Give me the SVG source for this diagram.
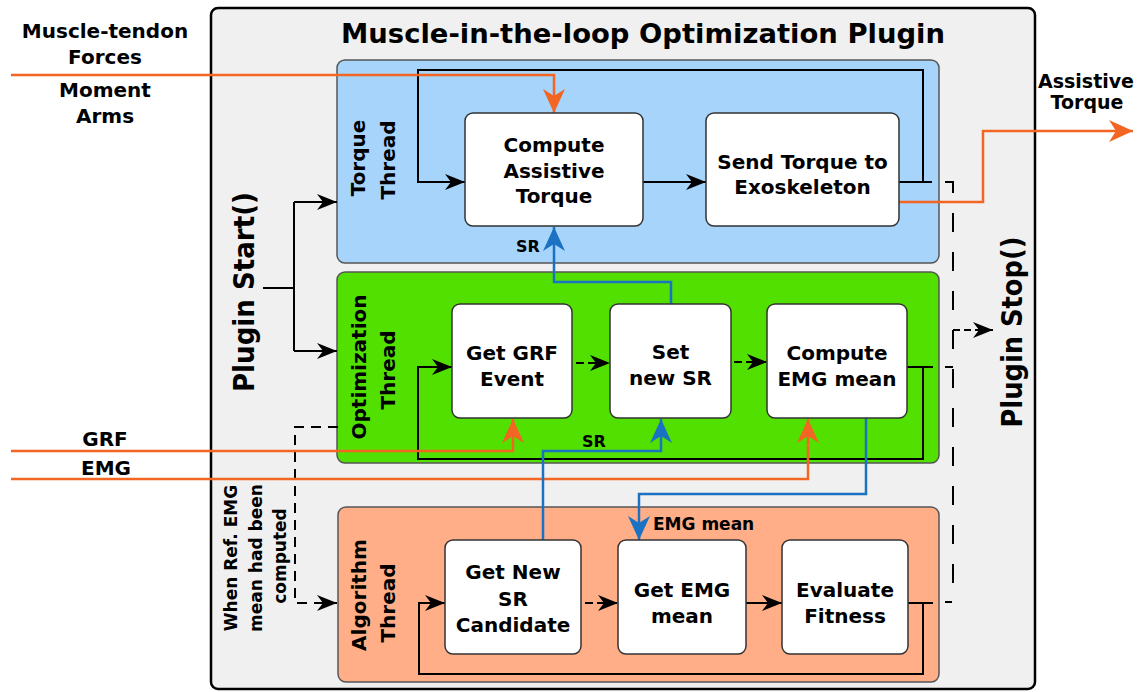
<svg xmlns="http://www.w3.org/2000/svg" width="1137" height="692" viewBox="0 0 1137 692">
<style>
.t{font-family:"DejaVu Sans","Liberation Sans",sans-serif;font-weight:bold;fill:#000}
.c{text-anchor:middle}
.n{font-size:20px}
.lbl{font-size:20px}
.panel{stroke:#555;stroke-width:1.5}
.box{fill:#fff;stroke:#333;stroke-width:1.5}
.bk{fill:none;stroke:#000;stroke-width:2}
.or{fill:none;stroke:#f26522;stroke-width:2.5}
.bl{fill:none;stroke:#1b72c2;stroke-width:2.5}
.dr{stroke-dasharray:19 20}
.dl{stroke-dasharray:10 7}
.ds{stroke-dasharray:8 4}
</style>
<defs>
<marker id="ab" markerUnits="userSpaceOnUse" markerWidth="20" markerHeight="16" viewBox="0 0 20 16" refX="20" refY="8" orient="auto"><path d="M0,0 L20,8 L0,16 L6,8 Z" fill="#000"/></marker>
<marker id="ao" markerUnits="userSpaceOnUse" markerWidth="24" markerHeight="22" viewBox="0 0 24 22" refX="24" refY="11" orient="auto"><path d="M0,0 L24,11 L0,22 L7,11 Z" fill="#f26522"/></marker>
<marker id="au" markerUnits="userSpaceOnUse" markerWidth="24" markerHeight="22" viewBox="0 0 24 22" refX="24" refY="11" orient="auto"><path d="M0,0 L24,11 L0,22 L7,11 Z" fill="#1b72c2"/></marker>
</defs>

<g id="plugin">
<rect x="211" y="8" width="824" height="681" rx="7" fill="#f0f0f0" stroke="#000" stroke-width="2.5"/>
<text class="t c" x="643" y="43" font-size="27" textLength="604" lengthAdjust="spacingAndGlyphs">Muscle-in-the-loop Optimization Plugin</text>
<text class="t c" x="254" y="292" font-size="28" textLength="200" lengthAdjust="spacingAndGlyphs" transform="rotate(-90 254 292)">Plugin Start()</text>
<text class="t c" x="1022" y="332" font-size="28" textLength="191" lengthAdjust="spacingAndGlyphs" transform="rotate(-90 1022 332)">Plugin Stop()</text>
<g font-size="17">
<text class="t c" x="237" y="558" transform="rotate(-90 237 558)">When Ref. EMG</text>
<text class="t c" x="262" y="558" transform="rotate(-90 262 558)">mean had been</text>
<text class="t c" x="286" y="556" transform="rotate(-90 286 556)">computed</text>
</g>
</g>

<g id="torque-thread">
<rect class="panel" x="337" y="60" width="602" height="203" rx="8" fill="#a6d4fb"/>
<text class="t c lbl" x="365" y="158" transform="rotate(-90 365 158)">Torque</text>
<text class="t c lbl" x="395" y="160" transform="rotate(-90 395 160)">Thread</text>
</g>
<g id="optimization-thread">
<rect class="panel" x="337" y="272" width="602" height="191" rx="8" fill="#52e000"/>
<text class="t c lbl" x="366" y="367" transform="rotate(-90 366 367)">Optimization</text>
<text class="t c lbl" x="395" y="370" transform="rotate(-90 395 370)">Thread</text>
</g>
<g id="algorithm-thread">
<rect class="panel" x="338" y="507" width="601" height="175" rx="8" fill="#ffae88"/>
<text class="t c lbl" x="366" y="595" transform="rotate(-90 366 595)">Algorithm</text>
<text class="t c lbl" x="395" y="603" transform="rotate(-90 395 603)">Thread</text>
</g>

<g id="external-labels" class="t c lbl">
<text x="105" y="38">Muscle-tendon</text>
<text x="105" y="64">Forces</text>
<text x="105" y="97">Moment</text>
<text x="105" y="123">Arms</text>
<text x="105" y="446">GRF</text>
<text x="106" y="475">EMG</text>
<text x="1086" y="88" font-size="19">Assistive</text>
<text x="1087" y="109" font-size="19">Torque</text>
</g>

<g id="connectors">
<!-- plugin start -->
<path class="bk" d="M263,288 H294 M294,202 V351"/>
<path class="bk" d="M294,202 H337" marker-end="url(#ab)"/>
<path class="bk" d="M294,351 H337" marker-end="url(#ab)"/>
<!-- torque thread -->
<path class="bk" d="M643,182 H706" marker-end="url(#ab)"/>
<path class="bk" d="M899,182 H932"/>
<path class="bk" d="M923,182 V70 H418 V182 H465" marker-end="url(#ab)"/>
<!-- optimization thread -->
<path class="bk ds" d="M576,363 H610" marker-end="url(#ab)"/>
<path class="bk ds" d="M734,362 H767" marker-end="url(#ab)"/>
<path class="bk" d="M907,367 H933"/>
<path class="bk" d="M923,367 V459 H418 V367 H452" marker-end="url(#ab)"/>
<!-- algorithm thread -->
<path class="bk ds" d="M585,603 H618" marker-end="url(#ab)"/>
<path class="bk" d="M746,603 H782" marker-end="url(#ab)"/>
<path class="bk" d="M908,603 H933"/>
<path class="bk" d="M923,603 V674 H419 V603 H445" marker-end="url(#ab)"/>
<!-- stop dashed -->
<path class="bk dr" d="M945,182 H953 V602 H945"/>
<path class="bk" d="M945,367 H953"/>
<path class="bk" stroke-dasharray="7 4" d="M953,330 H993" marker-end="url(#ab)"/>
<!-- when ref emg -->
<path class="bk dl" stroke-width="1.8" d="M338,427 H295 V603 H337" marker-end="url(#ab)"/>
<!-- orange -->
<path class="or" d="M11,75 H554 V113" marker-end="url(#ao)"/>
<path class="or" d="M899,202 H983 V131 H1133" marker-end="url(#ao)"/>
<path class="or" d="M11,451 H513 V419" marker-end="url(#ao)"/>
<path class="or" d="M11,479 H808 V419" marker-end="url(#ao)"/>
<!-- blue -->
<path class="bl" d="M671,304 V282 H554 V227" marker-end="url(#au)"/>
<path class="bl" d="M543,540 V451 H661 V419" marker-end="url(#au)"/>
<path class="bl" d="M866,418 V494 H639 V540" marker-end="url(#au)"/>
<text class="t c" x="528" y="252" font-size="16">SR</text>
<text class="t c" x="594" y="447" font-size="16">SR</text>
<text class="t" x="653" y="530" font-size="17">EMG mean</text>
</g>

<g id="compute-assistive-torque">
<rect class="box" x="465" y="113" width="178" height="113" rx="8"/>
<text class="t c n" x="554" y="152">Compute</text>
<text class="t c n" x="554" y="178">Assistive</text>
<text class="t c n" x="554" y="203">Torque</text>
</g>
<g id="send-torque">
<rect class="box" x="706" y="113" width="193" height="113" rx="8"/>
<text class="t c n" x="802.5" y="169">Send Torque to</text>
<text class="t c n" x="802.5" y="194">Exoskeleton</text>
</g>
<g id="get-grf-event">
<rect class="box" x="452" y="304" width="120" height="114" rx="8"/>
<text class="t c n" x="512" y="360">Get GRF</text>
<text class="t c n" x="512" y="386">Event</text>
</g>
<g id="set-new-sr">
<rect class="box" x="610" y="304" width="121" height="114" rx="8"/>
<text class="t c n" x="670.5" y="359">Set</text>
<text class="t c n" x="670.5" y="385">new SR</text>
</g>
<g id="compute-emg-mean">
<rect class="box" x="767" y="304" width="140" height="114" rx="8"/>
<text class="t c n" x="837" y="360">Compute</text>
<text class="t c n" x="837" y="386">EMG mean</text>
</g>
<g id="get-new-sr-candidate">
<rect class="box" x="445" y="540" width="136" height="114" rx="8"/>
<text class="t c n" x="513" y="579">Get New</text>
<text class="t c n" x="513" y="606">SR</text>
<text class="t c n" x="513" y="632">Candidate</text>
</g>
<g id="get-emg-mean">
<rect class="box" x="618" y="540" width="128" height="114" rx="8"/>
<text class="t c n" x="682" y="597">Get EMG</text>
<text class="t c n" x="682" y="623">mean</text>
</g>
<g id="evaluate-fitness">
<rect class="box" x="782" y="540" width="126" height="114" rx="8"/>
<text class="t c n" x="845" y="597">Evaluate</text>
<text class="t c n" x="845" y="623">Fitness</text>
</g>
</svg>
